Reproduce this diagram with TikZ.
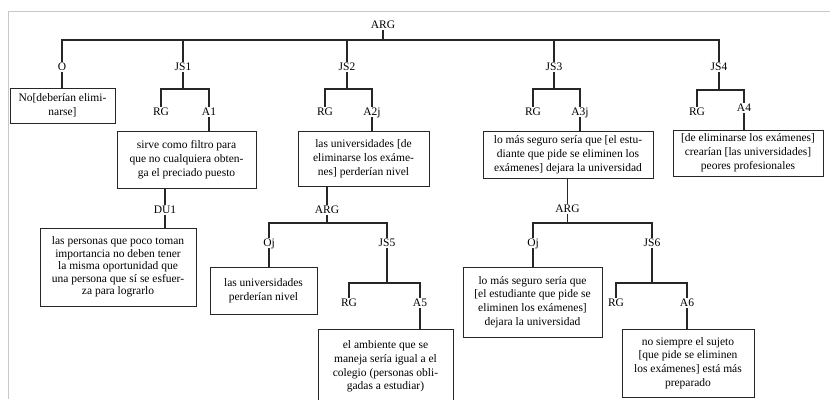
\documentclass[tikz,border=0pt]{standalone}
\usepackage{fontspec}
\setmainfont{Liberation Serif}
\definecolor{linec}{HTML}{262626}
\definecolor{framec}{HTML}{C8C8C8}
\begin{document}
\begin{tikzpicture}[x=1pt,y=-1pt,
  lab/.style={inner sep=1.5pt,text height=7.5pt,text depth=0pt,font=\fontsize{11.5}{13.6}\selectfont,text=black},
  tbox/.style={draw=linec,line width=1pt,align=center,inner sep=1pt,text=black,font=\fontsize{11.5}{13.8}\selectfont},
  conn/.style={draw=linec,line width=1.1pt}]
\useasboundingbox (0,0) rectangle (830,399);
\clip (0,0) rectangle (830,399);
\draw[framec,line width=0.8pt] (830,11) -- (8,11) -- (8,399);

% bar levels
\coordinate (y40) at (0,40);
\coordinate (y89) at (0,89);
\coordinate (y90) at (0,90);
\coordinate (y223) at (0,223);
\coordinate (y283) at (0,283);

% labels
\node[lab] (arg0) at (383,25) {ARG};
\node[lab] (o) at (62,67) {O};
\node[lab] (js1) at (183,67) {JS1};
\node[lab] (js2) at (347,67) {JS2};
\node[lab] (js3) at (554,67) {JS3};
\node[lab] (js4) at (719,67) {JS4};
\node[lab] (rg1) at (161,112) {RG};
\node[lab] (a1) at (209,112) {A1};
\node[lab] (rg2) at (325,112) {RG};
\node[lab] (a2) at (372,112) {A2j};
\node[lab] (rg3) at (533,112) {RG};
\node[lab] (a3) at (580,112) {A3j};
\node[lab] (rg4) at (697,112) {RG};
\node[lab] (a4) at (744,108) {A4};
\node[lab] (du1) at (165,210) {DU1};
\node[lab] (arg1) at (327,210) {ARG};
\node[lab] (arg2) at (567.5,209) {ARG};
\node[lab] (oj1) at (269,243) {Oj};
\node[lab] (js5) at (387,243) {JS5};
\node[lab] (oj2) at (533,243) {Oj};
\node[lab] (js6) at (652,243) {JS6};
\node[lab] (rg5) at (349,303) {RG};
\node[lab] (a5) at (420,303) {A5};
\node[lab] (rg6) at (616,303) {RG};
\node[lab] (a6) at (687,303) {A6};

% boxes
\node[tbox,minimum width=105pt,minimum height=35pt] (bo) at (62.5,105.5) {No[deberían elimi-\\narse]};
\node[tbox,minimum width=139pt,minimum height=57.5pt] (b1) at (186.5,159.75) {sirve como filtro para\\que no cualquiera obten-\\ga el preciado puesto};
\node[tbox,minimum width=156pt,minimum height=78pt,font=\fontsize{11.5}{12.4}\selectfont] (bdu) at (118,267) {las personas que poco toman\\importancia no deben tener\\la misma oportunidad que\\una persona que sí se esfuer-\\za para lograrlo};
\node[tbox,minimum width=131pt,minimum height=55pt] (b2) at (363.5,158.5) {las universidades {[}de\\eliminarse los exáme-\\nes{]} perderían nivel};
\node[tbox,minimum width=107pt,minimum height=47pt] (bo1) at (263.5,290.5) {las universidades\\perderían nivel};
\node[tbox,minimum width=135pt,minimum height=74pt,anchor=north] (b5) at (385.5,329) {el ambiente que se\\maneja sería igual a el\\colegio (personas obli-\\gadas a estudiar)};
\node[tbox,minimum width=170pt,minimum height=47pt] (b3) at (568,154.5) {lo más seguro sería que {[}el estu-\\diante que pide se eliminen los\\exámenes{]} dejara la universidad};
\node[tbox,minimum width=139pt,minimum height=70pt] (bo2) at (532.5,302) {lo más seguro sería que\\{[}el estudiante que pide se\\eliminen los exámenes{]}\\dejara la universidad};
\node[tbox,minimum width=132pt,minimum height=68pt] (b6) at (688,363) {no siempre el sujeto\\{[}que pide se eliminen\\los exámenes{]} está más\\preparado};
\node[tbox,minimum width=150pt,minimum height=46pt] (b4) at (748,153) {{[}de eliminarse los exámenes{]}\\crearían {[}las universidades{]}\\peores profesionales};

% tree connectors
\foreach \c in {o,js1,js2,js3,js4}{
  \draw[conn] (arg0.south) -- (arg0.south |- y40) -| (\c.north);
}
\foreach \p/\l/\r/\bar in {js1/rg1/a1/y89, js2/rg2/a2/y89, js3/rg3/a3/y89, js4/rg4/a4/y90, arg1/oj1/js5/y223, arg2/oj2/js6/y223, js5/rg5/a5/y283, js6/rg6/a6/y283}{
  \draw[conn] (\p.south) -- (\p.south |- \bar) -| (\l.north);
  \draw[conn] (\p.south |- \bar) -| (\r.north);
}
% label to box
\draw[conn] (o.south) -- (o.south |- bo.north);
\draw[conn] (a1.south) -- (a1.south |- b1.north);
\draw[conn] (a2.south) -- (a2.south |- b2.north);
\draw[conn] (a3.south) -- (a3.south |- b3.north);
\draw[conn] (a4.south) -- (a4.south |- b4.north);
\draw[conn] (du1.south) -- (du1.south |- bdu.north);
\draw[conn] (oj1.south) -- (oj1.south |- bo1.north);
\draw[conn] (a5.south) -- (a5.south |- b5.north);
\draw[conn] (oj2.south) -- (oj2.south |- bo2.north);
\draw[conn] (a6.south) -- (a6.south |- b6.north);
% box to label
\draw[conn] (b1.south -| du1) -- (du1.north);
\draw[conn] (b2.south -| arg1) -- (arg1.north);
\draw[conn] (b3.south -| arg2) -- (arg2.north);
\end{tikzpicture}
\end{document}
